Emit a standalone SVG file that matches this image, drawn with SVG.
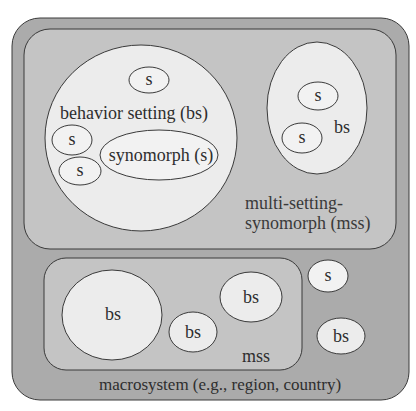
<svg xmlns="http://www.w3.org/2000/svg" width="416" height="411" viewBox="0 0 416 411" font-family="'Liberation Serif', 'DejaVu Serif', serif">
  <style>
    .macro { fill: #ababab; stroke: #3a3a3a; stroke-width: 1; }
    .mss { fill: #c4c4c4; stroke: #3a3a3a; stroke-width: 1; }
    .bs { fill: #ececec; stroke: #3a3a3a; stroke-width: 1; }
    .s { fill: #f2f2f2; stroke: #3a3a3a; stroke-width: 1; }
    text { font-family: 'Liberation Serif', 'DejaVu Serif', serif; font-size: 18px; fill: #2e2e2e; text-anchor: middle; }
    .lbl { text-anchor: start; fill: #3a3a3a; }
  </style>
  <rect width="416" height="411" fill="#ffffff"/>

  <!-- macrosystem -->
  <g id="macrosystem">
    <rect class="macro" x="12" y="18" width="397" height="382" rx="28" ry="28"/>
    <text x="220" y="390" style="font-size:17px">macrosystem (e.g., region, country)</text>
  </g>

  <!-- upper multi-setting synomorph -->
  <g id="mss-upper">
    <rect class="mss" x="24" y="29" width="372" height="220" rx="26" ry="26"/>
    <text class="lbl" x="245" y="209">multi-setting-</text>
    <text class="lbl" x="245" y="229">synomorph (mss)</text>
  </g>

  <g id="bs-main">
    <ellipse class="bs" cx="141" cy="138" rx="96" ry="93"/>
    <text x="134" y="119">behavior setting (bs)</text>
  </g>
  <g id="s-top">
    <ellipse class="s" cx="149" cy="80" rx="20" ry="13"/>
    <text x="149" y="85">s</text>
  </g>
  <g id="s-left-1">
    <ellipse class="s" cx="72" cy="140" rx="20" ry="15"/>
    <text x="72" y="145">s</text>
  </g>
  <g id="s-left-2">
    <ellipse class="s" cx="80" cy="171" rx="21" ry="14"/>
    <text x="80" y="176">s</text>
  </g>
  <g id="synomorph">
    <ellipse class="s" cx="159" cy="155" rx="59" ry="25"/>
    <text x="161" y="161">synomorph (s)</text>
  </g>

  <g id="bs-right">
    <ellipse class="bs" cx="317" cy="108" rx="50" ry="66"/>
    <text x="342" y="133">bs</text>
  </g>
  <g id="s-right-1">
    <ellipse class="s" cx="318" cy="96" rx="20" ry="14"/>
    <text x="318" y="101">s</text>
  </g>
  <g id="s-right-2">
    <ellipse class="s" cx="302" cy="138" rx="20" ry="15"/>
    <text x="302" y="143">s</text>
  </g>

  <!-- lower multi-setting synomorph -->
  <g id="mss-lower">
    <rect class="mss" x="44" y="258" width="258" height="112" rx="22" ry="22"/>
    <text x="256" y="362">mss</text>
  </g>
  <g id="bs-lower-large">
    <ellipse class="bs" cx="112" cy="315" rx="50" ry="45"/>
    <text x="113" y="320">bs</text>
  </g>
  <g id="bs-lower-small">
    <ellipse class="bs" cx="193" cy="332" rx="24" ry="20"/>
    <text x="193" y="338">bs</text>
  </g>
  <g id="bs-lower-mid">
    <ellipse class="bs" cx="251" cy="297" rx="31" ry="25"/>
    <text x="251" y="303">bs</text>
  </g>

  <!-- standalone units in the macrosystem -->
  <g id="s-free">
    <ellipse class="s" cx="328" cy="276" rx="20" ry="16"/>
    <text x="328" y="281">s</text>
  </g>
  <g id="bs-free">
    <ellipse class="bs" cx="341" cy="336" rx="24" ry="18"/>
    <text x="341" y="342">bs</text>
  </g>
</svg>
